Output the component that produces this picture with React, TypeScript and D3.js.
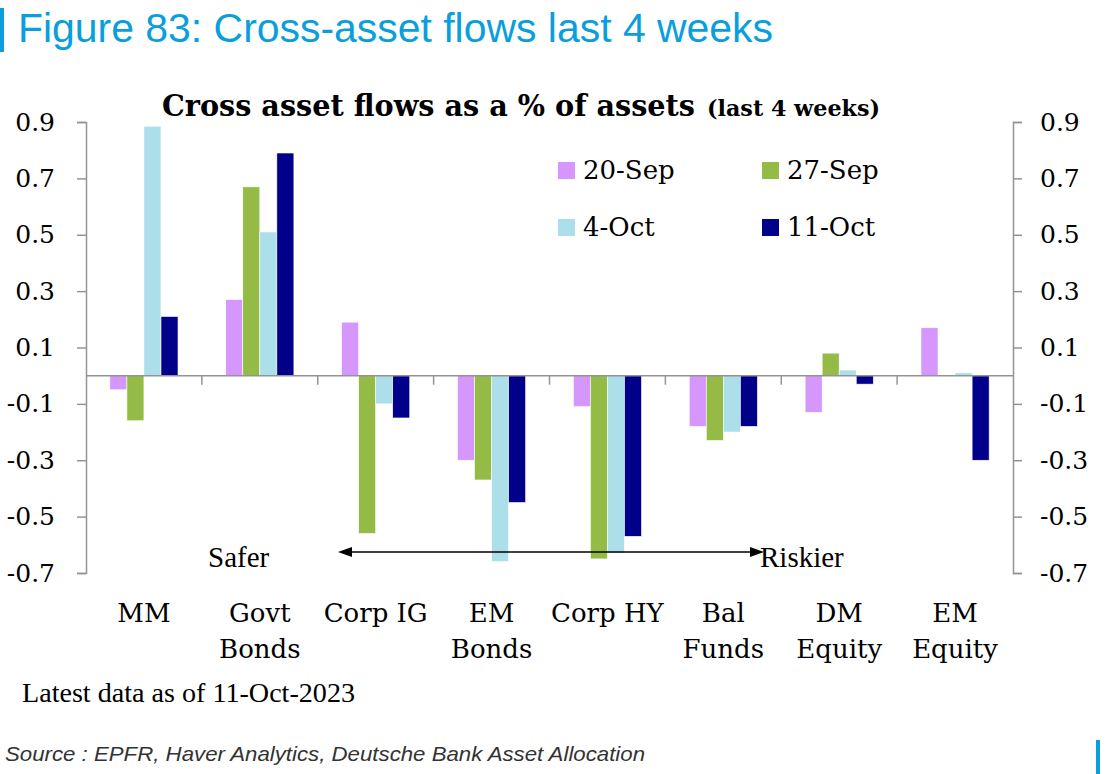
import React, { useEffect, useRef } from "react";
import * as d3 from "d3";

const categories = ["MM", "Govt Bonds", "Corp IG", "EM Bonds", "Corp HY", "Bal Funds", "DM Equity", "EM Equity"];
const categoryLines = [["MM"], ["Govt", "Bonds"], ["Corp IG"], ["EM", "Bonds"], ["Corp HY"], ["Bal", "Funds"], ["DM", "Equity"], ["EM", "Equity"]];

const seriesNames = ["20-Sep", "27-Sep", "4-Oct", "11-Oct"];
const seriesColors = ["#d597fb", "#95bb47", "#acdfe9", "#00008b"];

const sep20 = [-0.05, 0.27, 0.19, -0.3, -0.11, -0.18, -0.13, 0.17];
const sep27 = [-0.16, 0.67, -0.56, -0.37, -0.65, -0.23, 0.08, 0.0];
const oct4 = [0.885, 0.51, -0.1, -0.66, -0.63, -0.2, 0.02, 0.01];
const oct11 = [0.21, 0.79, -0.15, -0.45, -0.57, -0.18, -0.03, -0.3];

const yTicks = [-0.7, -0.5, -0.3, -0.1, 0.1, 0.3, 0.5, 0.7, 0.9];

const W = 1106;
const H = 774;
const SERIF = "'DejaVu Serif', serif";
const TIMES = "'Liberation Serif', 'Times New Roman', serif";
const SANS = "'Liberation Sans', Arial, sans-serif";
const AXIS_GREY = "#949494";

const App: React.FC = () => {
  const svgRef = useRef<SVGSVGElement>(null);

  useEffect(() => {
    if (!svgRef.current) return;
    const svg = d3.select(svgRef.current);
    svg.selectAll("*").remove();

    const margin = { top: 122, right: 93, bottom: 201, left: 86 };
    const x0 = d3.scaleBand<string>().domain(categories).range([margin.left, W - margin.right]).paddingInner(0).paddingOuter(0);
    const x1 = d3.scaleBand<string>().domain(seriesNames).range([0, x0.bandwidth()]).paddingInner(0).paddingOuter(1.4);
    const y = d3.scaleLinear().domain([-0.7, 0.9]).range([H - margin.bottom, margin.top]);

    const series = [sep20, sep27, oct4, oct11];
    const fmt = (d: d3.NumberValue) => d3.format(".1f")(+d).replace("−", "-");

    // header
    svg.append("rect").attr("x", 0).attr("y", 8).attr("width", 4).attr("height", 44).attr("fill", "#0a9fdc");
    svg
      .append("text")
      .attr("x", 18)
      .attr("y", 42)
      .attr("fill", "#0a9fdc")
      .attr("font-family", SANS)
      .attr("font-size", 40)
      .attr("textLength", 755)
      .attr("lengthAdjust", "spacingAndGlyphs")
      .text("Figure 83: Cross-asset flows last 4 weeks");

    // chart title
    svg
      .append("text")
      .attr("x", 162)
      .attr("y", 116)
      .attr("font-family", SERIF)
      .attr("font-weight", "bold")
      .attr("font-size", 29)
      .attr("fill", "#000")
      .attr("textLength", 533)
      .attr("lengthAdjust", "spacingAndGlyphs")
      .text("Cross asset flows as a % of assets");
    svg
      .append("text")
      .attr("x", 707)
      .attr("y", 116)
      .attr("font-family", SERIF)
      .attr("font-weight", "bold")
      .attr("font-size", 22)
      .attr("fill", "#000")
      .attr("textLength", 173)
      .attr("lengthAdjust", "spacingAndGlyphs")
      .text("(last 4 weeks)");

    // bars
    const g = svg.append("g");
    categories.forEach((cat, ci) => {
      series.forEach((vals, si) => {
        const v = vals[ci];
        g.append("rect")
          .attr("x", (x0(cat) as number) + (x1(seriesNames[si]) as number))
          .attr("y", y(Math.max(0, v)))
          .attr("width", x1.bandwidth())
          .attr("height", Math.abs(y(v) - y(0)))
          .attr("fill", seriesColors[si])
          .attr("stroke", "#fff")
          .attr("stroke-width", 0.6);
      });
    });

    // zero line + category ticks
    svg
      .append("line")
      .attr("x1", margin.left)
      .attr("x2", W - margin.right)
      .attr("y1", y(0))
      .attr("y2", y(0))
      .attr("stroke", AXIS_GREY)
      .attr("stroke-width", 1.5);
    svg
      .append("g")
      .selectAll("line")
      .data(categories.slice(1))
      .join("line")
      .attr("x1", (d) => x0(d) as number)
      .attr("x2", (d) => x0(d) as number)
      .attr("y1", y(0))
      .attr("y2", y(0) + 9)
      .attr("stroke", AXIS_GREY)
      .attr("stroke-width", 1.5);

    // y axes
    const styleAxis = (sel: d3.Selection<SVGGElement, unknown, null, undefined>) => {
      sel.selectAll("path, line").attr("stroke", AXIS_GREY).attr("stroke-width", 1.5);
      sel.selectAll("text").attr("font-family", SERIF).attr("font-size", 25).attr("fill", "#000");
      sel.attr("font-family", null).attr("font-size", null);
    };
    const left = svg
      .append("g")
      .attr("transform", `translate(${margin.left},0)`)
      .call(d3.axisLeft(y).tickValues(yTicks).tickSize(9).tickSizeOuter(9).tickPadding(22).tickFormat(fmt));
    styleAxis(left);
    const right = svg
      .append("g")
      .attr("transform", `translate(${W - margin.right},0)`)
      .call(d3.axisRight(y).tickValues(yTicks).tickSize(9).tickSizeOuter(9).tickPadding(18).tickFormat(fmt));
    styleAxis(right);

    // category labels
    categories.forEach((cat, ci) => {
      const cx = (x0(cat) as number) + x0.bandwidth() / 2;
      categoryLines[ci].forEach((line, li) => {
        svg
          .append("text")
          .attr("x", cx)
          .attr("y", 622 + li * 36)
          .attr("text-anchor", "middle")
          .attr("font-family", SERIF)
          .attr("font-size", 26)
          .attr("fill", "#000")
          .text(line);
      });
    });

    // legend
    const legendPos = [
      [558, 162],
      [762, 162],
      [558, 219],
      [762, 219],
    ];
    seriesNames.forEach((name, i) => {
      const [lx, ly] = legendPos[i];
      svg.append("rect").attr("x", lx).attr("y", ly).attr("width", 17).attr("height", 17).attr("fill", seriesColors[i]);
      svg
        .append("text")
        .attr("x", lx + 25)
        .attr("y", ly + 17)
        .attr("font-family", SERIF)
        .attr("font-size", 26)
        .attr("fill", "#000")
        .text(name);
    });

    // safer / riskier arrow
    const ay = 552;
    const ax1 = 338;
    const ax2 = 764;
    svg.append("line").attr("x1", ax1 + 6).attr("x2", ax2 - 6).attr("y1", ay).attr("y2", ay).attr("stroke", "#000").attr("stroke-width", 1.5);
    svg.append("path").attr("d", `M${ax1},${ay} l14,-5 v10 z`).attr("fill", "#000");
    svg.append("path").attr("d", `M${ax2},${ay} l-14,-5 v10 z`).attr("fill", "#000");
    svg.append("text").attr("x", 208).attr("y", 567).attr("font-family", TIMES).attr("font-size", 29).attr("fill", "#000").text("Safer");
    svg.append("text").attr("x", 760).attr("y", 567).attr("font-family", TIMES).attr("font-size", 29).attr("fill", "#000").text("Riskier");

    // footnotes
    svg
      .append("text")
      .attr("x", 22)
      .attr("y", 702)
      .attr("font-family", TIMES)
      .attr("font-size", 27)
      .attr("fill", "#000")
      .attr("textLength", 333)
      .attr("lengthAdjust", "spacingAndGlyphs")
      .text("Latest data as of 11-Oct-2023");
    svg
      .append("text")
      .attr("x", 5)
      .attr("y", 761)
      .attr("font-family", SANS)
      .attr("font-style", "italic")
      .attr("font-size", 21)
      .attr("fill", "#333")
      .attr("textLength", 640)
      .attr("lengthAdjust", "spacingAndGlyphs")
      .text("Source : EPFR, Haver Analytics, Deutsche Bank Asset Allocation");
    svg.append("rect").attr("x", 1096).attr("y", 740).attr("width", 4).attr("height", 34).attr("fill", "#0a9fdc");
  }, []);

  return (
    <svg
      ref={svgRef}
      width={W}
      height={H}
      style={{ position: "absolute", left: 0, top: 0, background: "#fff" }}
    />
  );
};

export default App;
